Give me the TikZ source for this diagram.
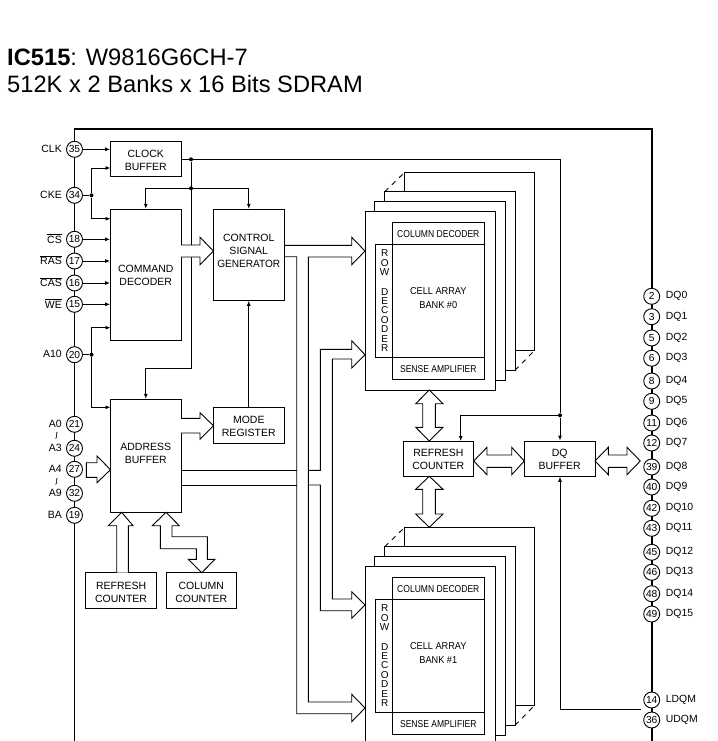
\documentclass[tikz,border=0pt]{standalone}
\usepackage{fontspec}
\setmainfont{Liberation Sans}
\usetikzlibrary{arrows.meta,calc}
\tikzset{
  thin line/.style={line width=0.9pt},
  sig/.style={thin line,-{Latex[length=5pt,width=4pt]}},
  wire/.style={thin line},
  bus/.style={thin line,fill=white,line join=miter},
  rail/.style={line width=1.8pt},
  boxtxt/.style={align=center,inner sep=0pt,font=\fontsize{10.5}{13}\selectfont},
  box/.style 2 args={draw,thin line,fill=white,inner sep=0pt,label={[boxtxt,yshift=#2]center:#1}},
  pin/.style={draw,thin line,fill=white,circle,minimum size=16pt,inner sep=0pt,font=\fontsize{10.2}{12}\selectfont},
  llab/.style={anchor=east,inner sep=0pt,font=\fontsize{10.5}{12}\selectfont},
  rlab/.style={anchor=west,inner sep=0pt,font=\fontsize{10.4}{12}\selectfont},
  dotj/.style={circle,fill=black,inner sep=0pt,minimum size=4pt},
  small/.style={inner sep=0pt,align=center,font=\fontsize{10}{14}\selectfont},
  cellt/.style={inner sep=0pt,align=center,font=\fontsize{10}{14}\selectfont},
  rowt/.style={inner sep=0pt,font=\fontsize{10}{12}\selectfont},
}
\newcommand{\bank}[2]{%
\begin{scope}[yshift=-#1pt]
  \draw[wire,fill=white] (404.7,191.7) -- (404.7,172.3) -- (534.7,172.3) -- (534.7,350.3) -- (515,350.3);
  \draw[thin line,dash pattern=on 5pt off 5pt] (384.7,191.7) -- (404.7,172.3);
  \draw[thin line,dash pattern=on 5pt off 5pt] (515,370.3) -- (534.7,350.3);
  \draw[wire,fill=white] (384.7,191.7) rectangle (515,370.3);
  \draw[wire,fill=white] (374.7,201.7) rectangle (505,380.3);
  \draw[wire,fill=white] (365,211.7) rectangle (495,390);
  \draw[wire] (392.3,222.3) rectangle (484.3,244.7);
  \draw[wire] (392.3,244.7) rectangle (484.3,357);
  \draw[wire] (392.3,357) rectangle (484.3,379.3);
  \draw[wire] (375.7,244.7) rectangle (392.3,357);
  \node[small] at (438.3,234) {\scalebox{0.855}[1]{COLUMN DECODER}};
  \node[small] at (438.3,369) {\scalebox{0.855}[1]{SENSE AMPLIFIER}};
  \node[cellt] at (438.3,298.5) {\scalebox{0.92}[1]{CELL ARRAY}\\\scalebox{0.92}[1]{BANK \##2}};
  \foreach \ltr/\yy in {R/253,O/262.7,W/272.4,D/291.7,E/301,C/310.4,O/319.8,D/329.2,E/338.6,R/348}{
    \node[rowt] at (384.7,\yy) {\ltr};
  }
\end{scope}}
\begin{document}
\begin{tikzpicture}[x=1pt,y=-1pt]
\useasboundingbox (0,0) rectangle (717,741);
\clip (0,0) rectangle (717,741);
% title
\node[anchor=base west,inner sep=0pt,font=\fontsize{23.7}{26}\selectfont] (t1) at (7,66) {\textbf{IC515}: W9816G6CH-7};
\node[anchor=base west,inner sep=0pt,font=\fontsize{23.7}{26}\selectfont] (t2) at (7,93) {512K x 2 Banks x 16 Bits SDRAM};
% rail
\coordinate (railbl) at (74.5,741);
\coordinate (railtl) at (74.5,129);
\coordinate (railtr) at (651.7,129);
\coordinate (railbr) at (651.7,741);
\draw[rail] (railbl) -- (railtl) -- (railtr) -- (railbr);
% banks
\bank{0}{0}
\bank{355}{1}
% boxes
\node[box={CLOCK\\BUFFER}{-1.2pt},minimum width=70.5pt,minimum height=35pt] (clock) at (145.75,159.2) {};
\node[box={COMMAND\\DECODER}{-1pt},minimum width=70.5pt,minimum height=130.7pt] (cmd) at (145.75,274.6) {};
\node[box={CONTROL\\SIGNAL\\\scalebox{0.96}[1]{GENERATOR}}{4pt},minimum width=70.5pt,minimum height=91pt] (ctrl) at (248.75,254.8) {};
\node[box={MODE\\REGISTER}{-1.2pt},minimum width=70.5pt,minimum height=35.7pt] (mode) at (248.75,425.2) {};
\node[box={ADDRESS\\BUFFER}{2pt},minimum width=70.5pt,minimum height=113pt] (addr) at (145.75,455.8) {};
\node[box={REFRESH\\COUNTER}{-1.5pt},minimum width=70.8pt,minimum height=35.6pt] (rfl) at (121.1,590.5) {};
\node[box={COLUMN\\COUNTER}{-1.5pt},minimum width=70.5pt,minimum height=35.6pt] (col) at (201.25,590.5) {};
\node[box={REFRESH\\COUNTER}{-1pt},minimum width=70.7pt,minimum height=35.3pt] (rfr) at (438.35,458.65) {};
\node[box={DQ\\BUFFER}{-1pt},minimum width=70.7pt,minimum height=35.3pt] (dq) at (559.65,458.65) {};
% left pins
\foreach \nm/\yy/\lab in {
 35/149.3/CLK, 34/195.3/CKE, 18/239.3/$\overline{\mbox{CS}}$, 17/261/$\overline{\mbox{RAS}}$, 16/283/$\overline{\mbox{CAS}}$, 15/304.3/$\overline{\mbox{WE}}$, 20/354.7/A10,
 21/424.3/A0, 24/448.3/A3, 27/469.3/A4, 32/493.3/A9, 19/515.3/BA}{
  \node[pin] (p\nm) at (74.5,\yy) {\nm};
  \node[llab] (lb\nm) at (62,\yy-0.7) {\lab};
}
\draw[line width=0.6pt] (57.5,432) .. controls (54,434) and (59,436.5) .. (55.5,438.5);
\draw[line width=0.6pt] (57.5,478) .. controls (54,480) and (59,482.5) .. (55.5,484.5);
% right pins
\foreach \nm/\yy/\lab in {
 2/296.3/DQ0,3/316.7/DQ1,5/338/DQ2,6/358.3/DQ3,8/381/DQ4,9/401.3/DQ5,11/423/DQ6,12/443/DQ7,
 39/467/DQ8,40/487/DQ9,42/508.3/DQ10,43/528.3/DQ11,45/552.3/DQ12,46/572.3/DQ13,48/593.7/DQ14,49/614/DQ15,
 14/700/LDQM,36/720/UDQM}{
  \node[pin] (p\nm) at (651.7,\yy) {\nm};
  \node[rlab] (lb\nm) at (665.7,\yy) {\lab};
}
% control signals
\draw[sig] (p35) -- (p35 -| clock.west);
\node[dotj] (jcke) at (91.5,195.3) {};
\draw[wire] (p34) -- (jcke);
\coordinate (ckein) at (110.5,168);
\coordinate (ckedec) at (110.5,218.7);
\draw[sig] (jcke) |- (ckein);
\draw[sig] (jcke) |- (ckedec);
\foreach \nm in {18,17,16,15}{\draw[sig] (p\nm) -- (p\nm -| cmd.west);}
\node[dotj] (ja10) at (91.5,354.7) {};
\draw[wire] (p20) -- (ja10);
\coordinate (a10dec) at (110.5,327.7);
\coordinate (a10adr) at (110.5,407.3);
\draw[sig] (ja10) |- (a10dec);
\draw[sig] (ja10) |- (a10adr);
% clock net
\node[dotj] (jclk) at (191,159.3) {};
\node[dotj] (jclk2) at (191,188.3) {};
\node[dotj] (jdq) at (560,415.3) {};
\coordinate (clkout) at (181,159.3);
\coordinate (clkcorner) at (560,159.3);
\draw[wire] (clkout) -- (clkcorner) -- (jdq);
\draw[sig] (jdq) -- (jdq |- dq.north);
\coordinate (rfin) at (460.7,441);
\draw[sig] (jdq) -| (rfin);
\coordinate (c1) at (191,368);
\coordinate (c2) at (145.75,368);
\draw[wire] (jclk) -- (c1) -- (c2);
\draw[sig] (c2) -- (addr.north);
\draw[sig] (jclk2) -| (cmd.north);
\draw[sig] (jclk2) -| (ctrl.north);
\draw[sig] (mode.north) -- (ctrl.south);
% LDQM
\coordinate (ld) at (641,709);
\coordinate (ldc) at (560,709);
\draw[sig] (ld) -- (ldc) -- (dq.south -| ldc);
% block arrows
\draw[bus] (181,245) -- (200,245) -- (200,237.3) -- (213.5,251) -- (200,264.7) -- (200,257) -- (181,257);
\draw[bus] (181,418.3) -- (200,418.3) -- (200,412.7) -- (213.5,425.7) -- (200,439.3) -- (200,433) -- (181,433);
\draw[bus] (86.3,462.7) -- (97,462.7) -- (97,456) -- (110.5,469.7) -- (97,482.7) -- (97,477.3) -- (86.3,477.3) -- cycle;
\draw[bus] (116.7,572.7) -- (116.7,525.7) -- (108.3,525.7) -- (121.7,512.3) -- (133,525.7) -- (128.3,525.7) -- (128.3,572.7);
\draw[bus] (160.3,525.7) -- (152.3,525.7) -- (166,512.3) -- (179.3,525.7) -- (172,525.7) -- (172,536.7) -- (207.3,536.7) -- (207.3,559.3) -- (215,559.3) -- (201.7,572.7) -- (188.3,559.3) -- (196.3,559.3) -- (196.3,548.7) -- (160.3,548.7) -- cycle;
% bank buses
\draw[wire] (284,245.3) -- (351.7,245.3) -- (351.7,237.3) -- (365,251) -- (351.7,264.7) -- (351.7,257) -- (308.3,257) -- (308.3,702) -- (351.7,702) -- (351.7,694.3) -- (365,708) -- (351.7,721.7) -- (351.7,713.7) -- (296.7,713.7) -- (296.7,256.7) -- (284,256.7);
\draw[wire] (181,470.3) -- (296.7,470.3);
\draw[wire] (308.3,470.3) -- (320.3,470.3) -- (320.3,349.3) -- (351.7,349.3) -- (351.7,340.7) -- (365,354.7) -- (351.7,368) -- (351.7,359) -- (332.3,359) -- (332.3,599) -- (351.7,599) -- (351.7,591.7) -- (365,605) -- (351.7,618.3) -- (351.7,610.7) -- (320.3,610.7) -- (320.3,485) -- (308.3,485);
\draw[wire] (296.7,485) -- (181,485);
% bidirectional
\draw[bus] (422.7,403.7) -- (415.7,403.7) -- (429.3,390) -- (443,403.7) -- (435.3,403.7) -- (435.3,427.3) -- (443,427.3) -- (429.3,441) -- (415.7,427.3) -- (422.7,427.3) -- cycle;
\draw[bus] (422.7,489.3) -- (415.7,489.3) -- (429.3,476.3) -- (443,489.3) -- (435.3,489.3) -- (435.3,514) -- (443,514) -- (429.3,527.3) -- (415.7,514) -- (422.7,514) -- cycle;
\draw[bus] (487,455) -- (487,447.3) -- (473.7,461) -- (487,474.7) -- (487,467.3) -- (511.7,467.3) -- (511.7,474.7) -- (524.3,461) -- (511.7,447.3) -- (511.7,455) -- cycle;
\draw[bus] (608.3,455) -- (608.3,447.3) -- (595,461) -- (608.3,474.7) -- (608.3,467.3) -- (627,467.3) -- (627,474.7) -- (640.3,461) -- (627,447.3) -- (627,455) -- cycle;
\end{tikzpicture}
\end{document}
